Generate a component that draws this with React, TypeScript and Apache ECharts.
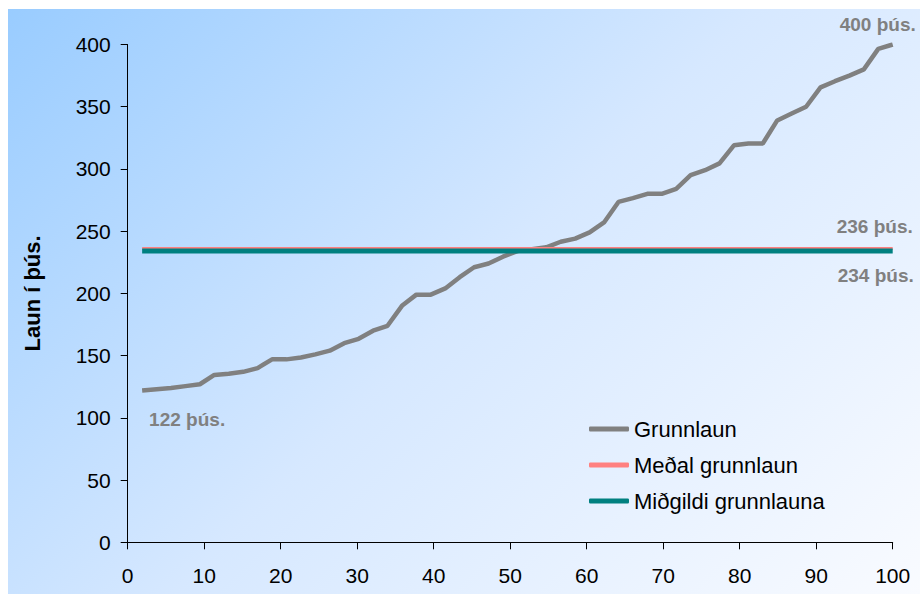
import React, { useEffect, useRef } from "react";
import * as echarts from "echarts";

// Grunnlaun (þús. kr.), one value per percentile step
const salaries: number[] = [
  122, 123, 124, 125.5, 127, 134.5, 135.5, 137, 140, 147,
  147, 148.5, 151, 154, 160, 163.5, 170, 174, 190, 199,
  199, 204, 213, 221, 224, 229.5, 234, 235.5, 237, 241.5,
  244, 249, 257, 273.5, 276.5, 280, 280, 284, 295, 299,
  304.5, 319, 320.5, 320.5, 339, 344.5, 350, 365.5, 370.5, 375,
  380, 396.5, 400,
];
const meanSalary = 236;
const medianSalary = 234;
const seriesNames = ["Grunnlaun", "Meðal grunnlaun", "Miðgildi grunnlauna"];
const xTicks = { min: 0, max: 100, interval: 10 };
const yTicks = { min: 0, max: 400, interval: 50 };
const yAxisTitle = "Laun í þús.";
const unit = "þús.";

export default function App() {
  const ref = useRef<HTMLDivElement>(null);

  useEffect(() => {
    if (!ref.current) return;
    const chart = echarts.init(ref.current, undefined, { renderer: "svg" });
    const n = salaries.length;
    const xs = salaries.map((_, i) => ((i + 1) * 100) / n);
    const salaryData = salaries.map((v, i) => [xs[i], v]);
    const xFirst = xs[0];
    const xLast = xs[n - 1];
    const font = "Liberation Sans, Arial, sans-serif";
    const labelStyle = {
      show: true,
      position: "inside",
      color: "#808080",
      fontWeight: "bold",
      fontSize: 19,
      fontFamily: font,
      formatter: (p: any) => `${Math.round(p.value)} ${unit}`,
    };

    chart.setOption({
      animation: false,
      backgroundColor: "transparent",
      grid: { left: 119.7, right: 27.3, top: 35.5, bottom: 51.7 },
      legend: {
        orient: "vertical",
        left: 576,
        top: 404,
        itemWidth: 40,
        itemHeight: 5,
        itemGap: 14,
        icon: "roundRect",
        textStyle: { fontSize: 22, color: "#000", fontFamily: font },
        data: seriesNames,
      },
      xAxis: {
        type: "value",
        min: xTicks.min,
        max: xTicks.max,
        interval: xTicks.interval,
        splitLine: { show: false },
        axisLine: { show: true, onZero: false, lineStyle: { color: "#000", width: 1 } },
        axisTick: { show: true, length: 7, lineStyle: { color: "#000" } },
        axisLabel: { fontSize: 21, color: "#000", margin: 23, fontFamily: font },
      },
      yAxis: {
        type: "value",
        min: yTicks.min,
        max: yTicks.max,
        interval: yTicks.interval,
        splitLine: { show: false },
        axisLine: { show: true, lineStyle: { color: "#000", width: 1 } },
        axisTick: { show: true, length: 7, lineStyle: { color: "#000" } },
        axisLabel: { fontSize: 21, color: "#000", margin: 17, fontFamily: font },
        name: yAxisTitle,
        nameLocation: "middle",
        nameGap: 84,
        nameRotate: 90,
        nameTextStyle: { fontSize: 22, fontWeight: "bold", color: "#000", fontFamily: font },
      },
      series: [
        {
          name: seriesNames[0],
          type: "line",
          data: salaryData,
          symbol: "none",
          color: "#808080",
          lineStyle: { color: "#808080", width: 4.5 },
          markPoint: {
            symbol: "circle",
            symbolSize: 1,
            itemStyle: { color: "transparent" },
            data: [
              { coord: [xLast, salaries[n - 1]], value: salaries[n - 1], label: { ...labelStyle, offset: [-15, -20] } },
              { coord: [xFirst, salaries[0]], value: salaries[0], label: { ...labelStyle, offset: [45, 29] } },
            ],
          },
        },
        {
          name: seriesNames[1],
          type: "line",
          data: [[xFirst, meanSalary], [xLast, meanSalary]],
          symbol: "none",
          color: "#ff8080",
          lineStyle: { color: "#ff8080", width: 3 },
          markPoint: {
            symbol: "circle",
            symbolSize: 1,
            itemStyle: { color: "transparent" },
            data: [
              { coord: [xLast, meanSalary], value: meanSalary, label: { ...labelStyle, offset: [-18, -22] } },
            ],
          },
        },
        {
          name: seriesNames[2],
          type: "line",
          data: [[xFirst, medianSalary], [xLast, medianSalary]],
          symbol: "none",
          color: "#008080",
          lineStyle: { color: "#008080", width: 5 },
          markPoint: {
            symbol: "circle",
            symbolSize: 1,
            itemStyle: { color: "transparent" },
            data: [
              { coord: [xLast, medianSalary], value: medianSalary, label: { ...labelStyle, offset: [-17, 24] } },
            ],
          },
        },
      ],
    });
    return () => chart.dispose();
  }, []);

  return (
    <div
      ref={ref}
      style={{
        position: "fixed",
        left: 8,
        top: 9,
        width: 912,
        height: 585,
        background: "linear-gradient(135deg, #99ccff 0%, #d6e8ff 50%, #f9fbff 100%)",
      }}
    />
  );
}
